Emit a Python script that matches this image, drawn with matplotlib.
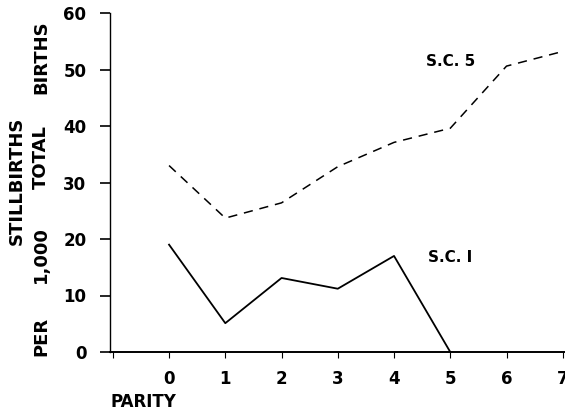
import matplotlib
matplotlib.use("Agg")
import matplotlib.pyplot as plt

# parity 0..7, stillbirths per 1,000 total births
parity = [0, 1, 2, 3, 4, 5, 6, 7]
sc5 = [33.0, 23.7, 26.4, 32.8, 37.1, 39.6, 50.6, 53.2]
sc1_parity = [0, 1, 2, 3, 4, 5]
sc1 = [19.0, 5.1, 13.1, 11.2, 17.0, 0.0]

x_ticks = [-1, 0, 1, 2, 3, 4, 5, 6, 7]
x_tick_labels = ["", "0", "1", "2", "3", "4", "5", "6", "7"]
y_ticks = [0, 10, 20, 30, 40, 50, 60]

plt.rcParams["font.family"] = ["DejaVu Sans"]
W, H = 565, 412
fig = plt.figure(figsize=(W / 100, H / 100), dpi=100)
ax = fig.add_axes([110 / W, 60 / H, (565 - 110) / W, (352 - 13) / H])

ax.plot(sc1_parity, sc1, color="black", linewidth=1.3)
ax.plot(parity, sc5, color="black", linewidth=1.1, linestyle=(0, (6, 4.5)))

ax.set_xlim(-1.05, 7.04)
ax.set_ylim(0, 60)
ax.set_xticks(x_ticks)
ax.set_xticklabels(x_tick_labels, fontsize=12, fontweight="bold")
ax.set_yticks(y_ticks)
ax.set_yticklabels([str(v) for v in y_ticks], fontsize=12, fontweight="bold")
ax.tick_params(axis="y", direction="out", length=7, width=1.2, pad=10)
ax.tick_params(axis="x", direction="out", length=4, width=0.8, pad=9)

for side in ("top", "right"):
    ax.spines[side].set_visible(False)
ax.spines["left"].set_linewidth(1.0)
ax.spines["bottom"].set_linewidth(1.4)

ax.text(5.0, 51.5, "S.C. 5", fontsize=11, fontweight="bold",
        ha="center", va="center")
ax.text(5.0, 16.8, "S.C. I", fontsize=11, fontweight="bold",
        ha="center", va="center")

# y-axis label, drawn word by word to keep the wide spacing
lab = dict(fontsize=13, fontweight="bold", rotation=90, ha="center", va="center")
fig.text(17 / W, 1 - 181 / H, "STILLBIRTHS", **lab)
fig.text(41 / W, 1 - 336 / H, "PER", **lab)
fig.text(41 / W, 1 - 255 / H, "1,000", **lab)
fig.text(41 / W, 1 - 157 / H, "TOTAL", **lab)
fig.text(41 / W, 1 - 57 / H, "BIRTHS", **lab)

fig.text(110 / W, 1 - 402 / H, "PARITY", fontsize=12, fontweight="bold",
         ha="left", va="center")

fig.savefig("out.png", dpi=100)
